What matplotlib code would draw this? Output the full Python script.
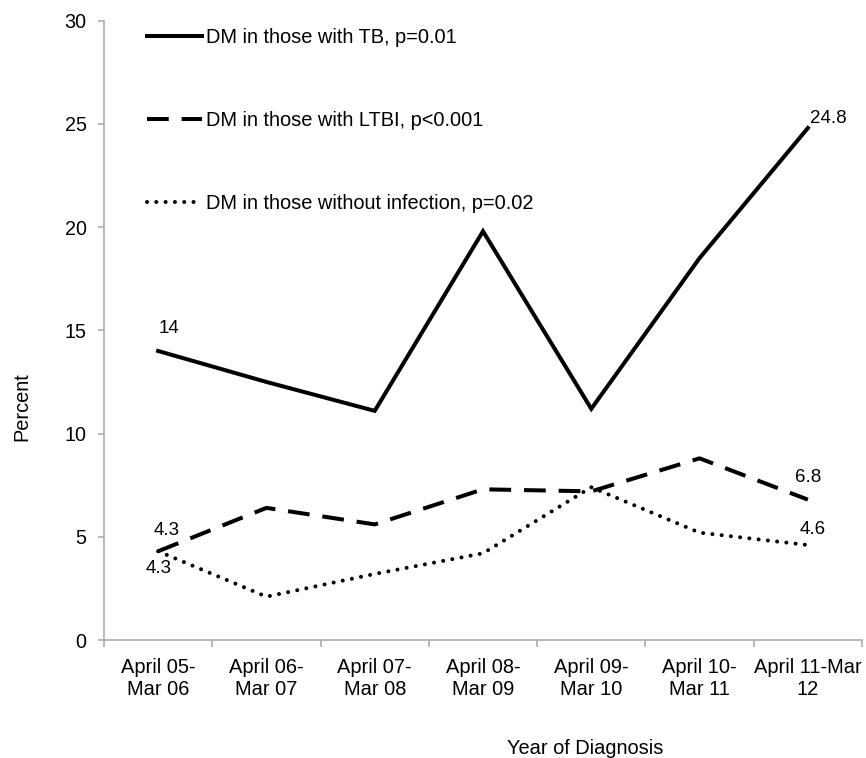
import matplotlib
matplotlib.use("Agg")
import matplotlib.pyplot as plt
from matplotlib.ticker import FixedLocator, NullFormatter

plt.rcParams['font.family'] = ['Liberation Sans', 'DejaVu Sans']

categories = ["April 05-\nMar 06", "April 06-\nMar 07", "April 07-\nMar 08",
              "April 08-\nMar 09", "April 09-\nMar 10", "April 10-\nMar 11",
              "April 11-Mar\n12"]
tb = [14.0, 12.5, 11.1, 19.8, 11.2, 18.5, 24.8]
ltbi = [4.3, 6.4, 5.6, 7.3, 7.2, 8.8, 6.8]
noinf = [4.3, 2.1, 3.2, 4.2, 7.4, 5.2, 4.6]
labels = ["DM in those with TB, p=0.01",
          "DM in those with LTBI, p<0.001",
          "DM in those without infection, p=0.02"]
yticks = [0, 5, 10, 15, 20, 25, 30]

W, H = 866, 758
fig = plt.figure(figsize=(W / 100, H / 100), dpi=100)
ax = fig.add_axes([104 / W, (H - 640) / H, (862 - 104) / W, (640 - 20.7) / H])

x = list(range(len(categories)))
lw = 2.9
ax.plot(x, tb, color='black', lw=lw, solid_joinstyle='miter', label=labels[0])
ax.plot(x, ltbi, color='black', lw=lw, linestyle=(0, (5.4, 3.2)),
        dash_capstyle='butt', label=labels[1])
ax.plot(x, noinf, color='black', lw=2.9, linestyle=(0, (0.01, 2.3)),
        dash_capstyle='round', label=labels[2])

ax.set_xlim(-0.5, len(categories) - 0.5)
ax.set_ylim(0, 30)

gray = '#a6a6a6'
for s in ['top', 'right']:
    ax.spines[s].set_visible(False)
for s in ['left', 'bottom']:
    ax.spines[s].set_color(gray)
    ax.spines[s].set_linewidth(1.1)

ax.set_yticks(yticks)
ax.tick_params(axis='y', direction='out', length=4.5, width=1.1, color=gray,
               labelsize=14.2, pad=8, labelcolor='black')
# category boundaries as major ticks, labels on minor ticks at centers
ax.xaxis.set_major_locator(FixedLocator([i - 0.5 for i in range(len(categories) + 1)]))
ax.xaxis.set_major_formatter(NullFormatter())
ax.xaxis.set_minor_locator(FixedLocator(x))
ax.set_xticklabels(categories, minor=True)
ax.tick_params(axis='x', which='major', direction='out', length=5, width=1.1, color=gray)
ax.tick_params(axis='x', which='minor', length=0, labelsize=14.4, pad=13)

# data labels
def lab(xi, yi, txt, dx, dy):
    ax.annotate(txt, (xi, yi), xytext=(dx, dy), textcoords='offset pixels',
                ha='center', va='center', fontsize=13.5)

lab(0, tb[0], "14", 11, 22)
lab(6, tb[6], "24.8", 20, 10)
lab(0, ltbi[0], "4.3", 8, 21)
lab(0, noinf[0], "4.3", 0, -17)
lab(6, ltbi[6], "6.8", 0, 22)
lab(6, noinf[6], "4.6", 5, 16)

leg = ax.legend(loc='upper left', bbox_to_anchor=(147 / W, 1 - 28 / H),
                bbox_transform=fig.transFigure, frameon=False, fontsize=14.4,
                handlelength=2.75, handletextpad=0.2, labelspacing=3.2,
                borderpad=0, borderaxespad=0)

fig.text(22 / W, 1 - 407 / H, "Percent", rotation=90, ha='center', va='center',
         fontsize=14.4)
fig.text(585 / W, 1 - 749 / H, "Year of Diagnosis", ha='center', va='center',
         fontsize=14.4)

fig.savefig("out.png", dpi=100)
